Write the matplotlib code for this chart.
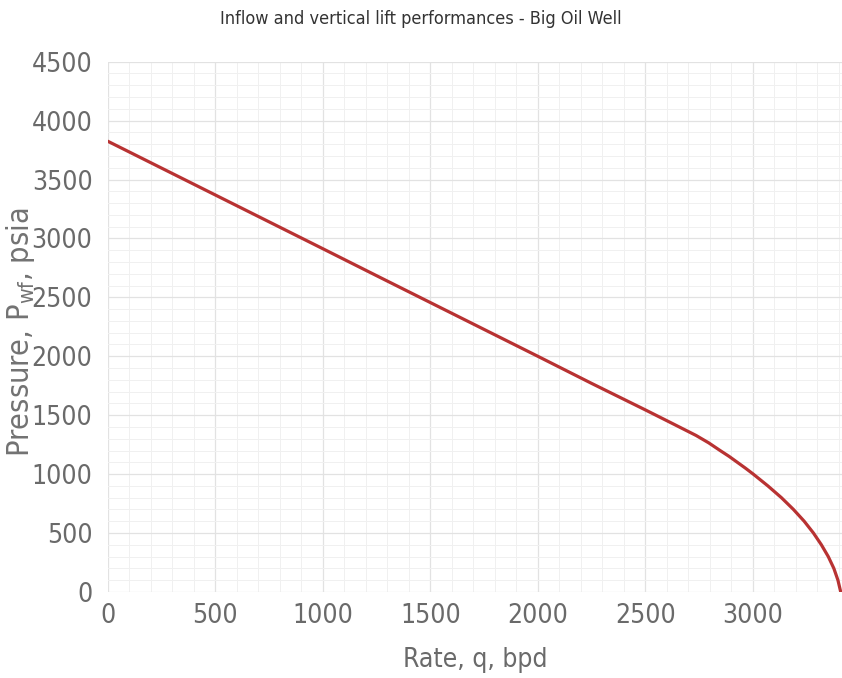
import matplotlib
matplotlib.use("Agg")
import matplotlib.pyplot as plt
from matplotlib.ticker import MultipleLocator

# IPR curve
rate_bpd = [0, 250, 500, 750, 1000, 1250, 1500, 1750, 2000, 2250, 2500,
            2620, 2736, 2795, 2848, 2890, 2928, 2966, 3002, 3070, 3133,
            3189, 3239, 3282, 3319, 3351, 3377, 3396, 3409]
pressure_psia = [3825, 3597, 3369, 3141, 2913, 2684, 2456, 2228, 2000, 1770,
                 1545, 1435, 1328, 1265, 1200, 1150, 1100, 1050, 1000, 900,
                 800, 700, 600, 500, 400, 300, 200, 100, 0]

x_ticks = [0, 500, 1000, 1500, 2000, 2500, 3000]
y_ticks = [0, 500, 1000, 1500, 2000, 2500, 3000, 3500, 4000, 4500]

plt.rcParams["font.family"] = ["DejaVu Sans"]
plt.rcParams["font.stretch"] = "condensed"
plt.rcParams["mathtext.fontset"] = "custom"
plt.rcParams["mathtext.rm"] = "DejaVu Sans:stretch=condensed"

fig = plt.figure(figsize=(8.42, 6.78), dpi=100)
ax = fig.add_axes([0.128, 0.127, 0.872, 0.782])

ax.plot(rate_bpd, pressure_psia, color="#b83232", lw=2.3,
        solid_capstyle="round", solid_joinstyle="round")

ax.set_xlim(0, 3415)
ax.set_ylim(0, 4500)
ax.set_xticks(x_ticks)
ax.set_yticks(y_ticks)
ax.xaxis.set_minor_locator(MultipleLocator(100))
ax.yaxis.set_minor_locator(MultipleLocator(100))
ax.grid(which="major", color="#e2e2e2", lw=0.9)
ax.grid(which="minor", color="#f0f0f0", lw=0.7)
ax.set_axisbelow(True)

for s in ax.spines.values():
    s.set_visible(False)
ax.tick_params(which="both", length=0, labelsize=19, labelcolor="#6a6a6a")
ax.tick_params(axis="x", pad=8)
ax.tick_params(axis="y", pad=11)

ax.set_xlabel("Rate, q, bpd", fontsize=19, color="#6a6a6a")
ax.set_ylabel(r"Pressure, P$_{\mathrm{wf}}$, psia", fontsize=22, color="#727272")
ax.xaxis.set_label_coords(0.5, -0.104)
ax.yaxis.set_label_coords(-0.097, 0.49)
fig.text(0.5, 0.972, "Inflow and vertical lift performances - Big Oil Well",
         ha="center", va="center", fontsize=13, color="#333333")

fig.savefig("out.png", dpi=100)
plt.close(fig)
